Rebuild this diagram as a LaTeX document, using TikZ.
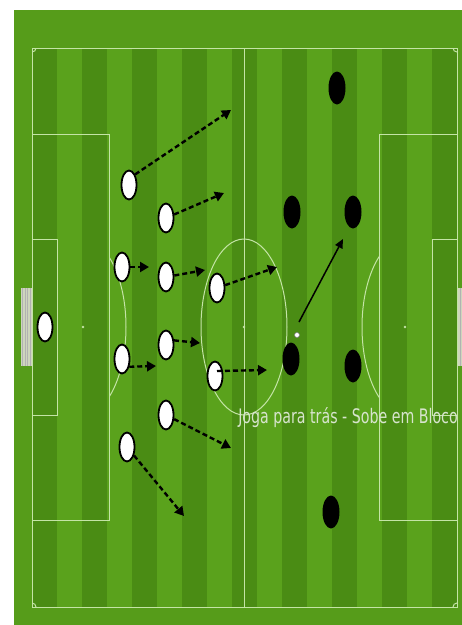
\documentclass[tikz,border=0pt]{standalone}
\usepackage{fontspec}
\newfontfamily\capfont{DejaVu Sans}
\usetikzlibrary{shapes.geometric,arrows.meta,calc}
\definecolor{margin}{RGB}{86,156,26}
\definecolor{lightg}{RGB}{90,162,28}
\definecolor{darkg}{RGB}{74,140,20}
\definecolor{linec}{RGB}{196,228,166}
\definecolor{netc}{RGB}{206,214,188}
\definecolor{capc}{RGB}{215,228,205}
\tikzset{
 pline/.style={draw=linec, line width=1pt},
 wp/.style={ellipse, draw=black, fill=white, line width=1.8pt, minimum width=15pt, minimum height=29pt, inner sep=0pt},
 bp/.style={ellipse, fill=black, minimum width=17pt, minimum height=33pt, inner sep=0pt},
 run/.style={draw=black, line width=2.4pt, dash pattern=on 5pt off 3pt, -{Triangle[length=9pt,width=10pt]}},
 pass/.style={draw=black, line width=1.5pt, -{Triangle[length=9pt,width=8pt]}},
}
\begin{document}
\begin{tikzpicture}[x=1pt,y=-1pt]
\useasboundingbox (0,0) rectangle (462,625);
\fill[white] (0,0) rectangle (462,625);
\fill[margin] (14,10) rectangle (462,625);
\fill[lightg] (32,48) rectangle (457,607);
\foreach \k in {0,...,8} \fill[darkg] ({32+50*\k},48) rectangle ({57+50*\k},607);
% nets
\fill[netc] (21,288) rectangle (32,366);
\draw[gray!60, line width=0.3pt] (21,288) grid[step=2.5] (32,366);
\fill[netc] (457,288) rectangle (466,366);
\draw[gray!60, line width=0.3pt] (457,288) grid[step=2.5] (466,366);
% lines
\draw[pline] (32,48) rectangle (457,607);
\draw[pline] (244,48) -- (244,607);
\draw[pline] (32,134) rectangle (109,520);
\draw[pline] (32,239) rectangle (57,415);
\draw[pline] (379,134) rectangle (457,520);
\draw[pline] (432,239) rectangle (457,415);
\draw[pline] (244,327) ellipse [x radius=43, y radius=88];
\fill[linec] (244,327) circle (1.3);
\fill[linec] (83,327) circle (1.3);
\fill[linec] (405,327) circle (1.3);
\begin{scope}
\clip (109,0) rectangle (200,625);
\draw[pline] (83,327) ellipse [x radius=43, y radius=88];
\end{scope}
\begin{scope}
\clip (300,0) rectangle (379,625);
\draw[pline] (405,327) ellipse [x radius=43, y radius=88];
\end{scope}
\begin{scope}
\clip (32,48) rectangle (457,607);
\foreach \p in {(32,48),(457,48),(32,607),(457,607)} \draw[pline] \p circle (4);
\end{scope}
% white players
\node[wp] (p1) at (45,327) {};
\node[wp] (p2) at (129,185) {};
\node[wp] (p3) at (166,218) {};
\node[wp] (p4) at (122,267) {};
\node[wp] (p5) at (166,277) {};
\node[wp] (p6) at (217,288) {};
\node[wp] (p7) at (122,359) {};
\node[wp] (p8) at (166,345) {};
\node[wp] (p9) at (215,376) {};
\node[wp] (p10) at (166,415) {};
\node[wp] (p11) at (127,447) {};
% black players
\node[bp] (b1) at (337,88) {};
\node[bp] (b2) at (292,212) {};
\node[bp] (b3) at (353,212) {};
\node[bp] (b4) at (291,359) {};
\node[bp] (b5) at (353,366) {};
\node[bp] (b6) at (331,512) {};
% ball
\node[circle, draw=gray, fill=white, line width=0.6pt, minimum size=5pt, inner sep=0pt] (ball) at (297,335) {};
% arrow targets
\coordinate (t1) at (231,110);
\coordinate (t2) at (224,193);
\coordinate (t3) at (149,267);
\coordinate (t4) at (205,270);
\coordinate (t5) at (277,267);
\coordinate (t6) at (156,366);
\coordinate (t7) at (200,343);
\coordinate (t8) at (267,370);
\coordinate (t9) at (231,448);
\coordinate (t10) at (184,516);
\coordinate (s0) at (299,322);
\coordinate (s1) at (343,239);
\draw[run] (p2.60) -- (t1);
\draw[run] (p3) -- (t2);
\draw[run] (p4) -- (t3);
\draw[run] (p5) -- (t4);
\draw[run] (p6) -- (t5);
\draw[run] (p7.-47) -- (t6);
\draw[run] (p8.30) -- (t7);
\draw[run] ($(p9.center)+(2,-5)$) -- (t8);
\draw[run] (p10) -- (t9);
\draw[run] (p11) -- (t10);
\draw[pass] (s0) -- (s1);
\node[text=capc, font=\capfont\fontsize{20}{24}\selectfont, anchor=base, inner sep=0pt] (cap) at (348,423) {\scalebox{0.71}[1]{Joga para trás - Sobe em Bloco}};
\end{tikzpicture}
\end{document}
